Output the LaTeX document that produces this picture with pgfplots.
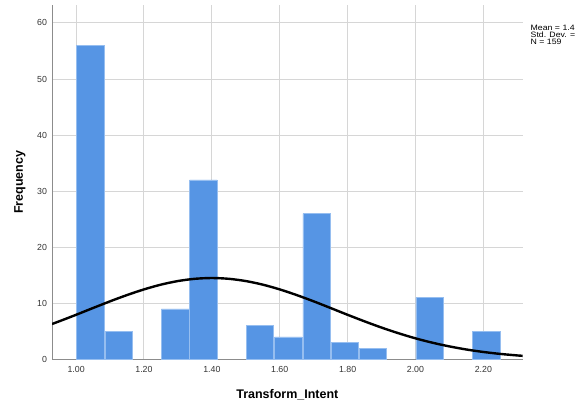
\documentclass[border=0pt]{standalone}
\usepackage{pgfplots}
\pgfplotsset{compat=1.18}
\usepackage{fontspec}
\setmainfont{Liberation Sans}
\definecolor{barblue}{RGB}{86,149,228}
\definecolor{baredge}{RGB}{150,190,240}
\definecolor{gridgray}{RGB}{214,214,214}
\definecolor{axisgray}{RGB}{140,140,140}
\begin{document}
\begin{tikzpicture}[x=1pt,y=1pt]
\path[use as bounding box] (0,0) rectangle (580,405);
\begin{axis}[
  at={(52pt,45.7pt)}, anchor=south west,
  scale only axis, width=470.7pt, height=354.3pt,
  xmin=0.929, xmax=2.316, ymin=0, ymax=63.2,
  axis x line*=bottom, axis y line*=left,
  axis line style={axisgray, line width=1pt, -},
  major tick length=0pt,
  xtick={1.0,1.2,1.4,1.6,1.8,2.0,2.2},
  xticklabels={1.00,1.20,1.40,1.60,1.80,2.00,2.20},
  ytick={0,10,20,30,40,50,60},
  grid=major, major grid style={gridgray, line width=1pt},
  tick label style={font=\fontsize{8.8}{10}\selectfont, text=black!80},
  /pgf/number format/assume math mode=true,
  xticklabel style={anchor=center, yshift=-10pt},
  yticklabel style={anchor=east, xshift=-1.5pt},
  xlabel={Transform\_Intent}, ylabel={Frequency},
  label style={font=\bfseries\fontsize{12.5}{14}\selectfont},
  xlabel style={at={(axis description cs:0.5,-0.0988)}, anchor=center},
  ylabel style={at={(axis description cs:-0.068,0.5)}, anchor=center},
]
\addplot[ybar, bar width=0.0805, bar shift=0pt, fill=barblue, draw=baredge, line width=0.5pt] coordinates {
  (1.0417,56) (1.1250,5) (1.2917,9) (1.3750,32) (1.5417,6) (1.6250,4)
  (1.7083,26) (1.7917,3) (1.8750,2) (2.0417,11) (2.2083,5)
};
\addplot[black, line width=2.4pt, smooth] table {
x y
0.929 6.30
0.95 6.77
1.00 7.94
1.05 9.15
1.10 10.34
1.15 11.46
1.20 12.47
1.25 13.32
1.30 13.96
1.35 14.36
1.40 14.50
1.45 14.36
1.50 13.96
1.55 13.32
1.60 12.47
1.65 11.46
1.70 10.34
1.75 9.15
1.80 7.94
1.85 6.77
1.90 5.66
1.95 4.65
2.00 3.74
2.05 2.96
2.10 2.30
2.15 1.75
2.20 1.31
2.25 0.96
2.30 0.69
2.316 0.62
};
\end{axis}
\node[anchor=north west, inner sep=0pt, align=left, font=\fontsize{7.8}{7}\selectfont] at (530.5,380.5)
  {\scalebox{1.12}[1]{Mean = 1.4}\\\scalebox{1.12}[1]{Std. Dev. =}\\\scalebox{1.12}[1]{N = 159}};
\end{tikzpicture}
\end{document}
